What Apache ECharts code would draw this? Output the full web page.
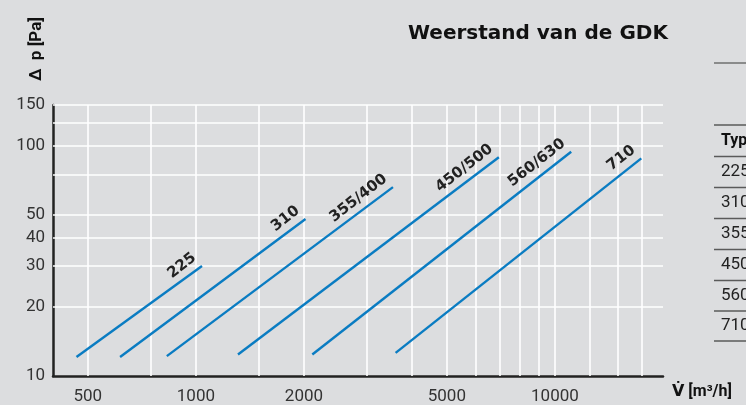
<!DOCTYPE html>
<html>
<head>
<meta charset="utf-8">
<script src="https://cdn.jsdelivr.net/npm/echarts@6/dist/echarts.min.js"></script>
<style>
  html, body { margin: 0; padding: 0; background: #dcdddf; }
  #chart { width: 746px; height: 405px; }
</style>
</head>
<body>
<div id="chart"></div>
<script>
// Pressure loss of the GDK per size: straight lines on log-log axes
const types     = ['225', '310', '355/400', '450/500', '560/630', '710'];
const flowStart = [465, 615, 830, 1310, 2110, 3600];      // m³/h
const flowEnd   = [1040, 2020, 3540, 6980, 11100, 17400]; // m³/h
const dpStart   = [12.1, 12.1, 12.2, 12.4, 12.4, 12.6];   // Pa
const dpEnd     = [30, 48, 66, 89, 94, 88];               // Pa

// Axis labels and grid lines
const xTickLabels = [500, 1000, 2000, 5000, 10000];
const yTickLabels = [10, 20, 30, 40, 50, 100, 150];
const xGridLines  = [500, 750, 1000, 1500, 2000, 3000, 4000, 5000, 6000, 7000, 8000, 9000, 10000, 12500, 15000, 17500];
const yGridLines  = [20, 30, 40, 50, 75, 100, 125, 150];

// Table rows at the right edge
const tableRows = ['225', '310', '355', '450', '560', '710'];

const BLUE = '#0a7cc2';
const DARK = '#222222';
const tickFont = 'Roboto, "DejaVu Sans", sans-serif';

const chart = echarts.init(document.getElementById('chart'), null, { renderer: 'canvas' });

const gridSeries = {
  type: 'line',
  data: [],
  silent: true,
  z: 1,
  markLine: {
    silent: true,
    z: 1,
    symbol: 'none',
    label: { show: false },
    lineStyle: { color: '#ffffff', width: 1.6, type: 'solid' },
    emphasis: { disabled: true },
    animation: false,
    data: xGridLines.map(v => ({ xAxis: v })).concat(yGridLines.map(v => ({ yAxis: v })))
  }
};

const curveSeries = types.map((t, i) => ({
  name: t,
  type: 'line',
  z: 3,
  symbol: 'circle',
  symbolSize: 0.1,
  showSymbol: true,
  itemStyle: { color: 'rgba(0,0,0,0)' },
  lineStyle: { color: BLUE, width: 2.4 },
  label: { show: false },
  labelLayout: { hideOverlap: false },
  data: [
    { value: [flowStart[i], dpStart[i]] },
    {
      value: [flowEnd[i], dpEnd[i]],
      label: {
        show: true,
        formatter: t,
        position: [-3, -4],
        align: 'right',
        verticalAlign: 'bottom',
        rotate: 38,
        color: '#222',
        fontFamily: '"DejaVu Sans", sans-serif',
        fontWeight: 'bold',
        fontSize: 15
      }
    }
  ],
  emphasis: { disabled: true }
}));

// Table graphics (partially cut off at the right edge)
const tableLineYs = [125, 156.5, 187.5, 218.5, 249.5, 280.5, 311, 341];
const tableGraphics = [];
tableGraphics.push({
  type: 'line', shape: { x1: 714, y1: 63, x2: 746, y2: 63 },
  style: { stroke: '#6f6f6f', lineWidth: 1.5 }
});
tableLineYs.forEach(y => tableGraphics.push({
  type: 'line', shape: { x1: 714, y1: y, x2: 746, y2: y },
  style: { stroke: '#5a5a5a', lineWidth: 1.5 }
}));
tableGraphics.push({
  type: 'text', x: 721, y: 141,
  style: { text: 'Typ', font: 'bold 16px ' + tickFont, fill: '#111', verticalAlign: 'middle' }
});
tableRows.forEach((r, i) => tableGraphics.push({
  type: 'text', x: 721, y: (tableLineYs[i + 1] + tableLineYs[i + 2]) / 2,
  style: { text: r, font: '17px ' + tickFont, fill: '#222', verticalAlign: 'middle' }
}));

const option = {
  backgroundColor: '#dcdddf',
  animation: false,
  title: {
    text: 'Weerstand van de GDK',
    left: 403,
    top: 19,
    textStyle: {
      fontFamily: '"DejaVu Sans", sans-serif',
      fontWeight: 'bold',
      fontSize: 20,
      color: '#111'
    }
  },
  grid: { left: 53, top: 105, width: 610, height: 272, containLabel: false },
  xAxis: {
    type: 'log',
    logBase: 10,
    min: 400,
    max: 20000,
    name: 'V\u0307 [m³/h]',
    nameLocation: 'end',
    nameGap: 9,
    nameTextStyle: {
      fontFamily: tickFont,
      fontWeight: 'bold',
      fontSize: 16,
      color: '#111',
      verticalAlign: 'top',
      padding: [8, 0, 0, 0]
    },
    axisLine: { show: true, onZero: false, lineStyle: { color: DARK, width: 2.5 } },
    axisTick: { show: false },
    splitLine: { show: false },
    minorSplitLine: { show: false },
    axisLabel: {
      customValues: xTickLabels,
      formatter: v => String(Math.round(v)),
      margin: 12,
      fontFamily: tickFont,
      fontSize: 17,
      color: '#333'
    }
  },
  yAxis: {
    type: 'log',
    logBase: 10,
    min: 10,
    max: 150,
    axisLine: { show: true, onZero: false, lineStyle: { color: DARK, width: 2.5 } },
    axisTick: { show: false },
    splitLine: { show: false },
    minorSplitLine: { show: false },
    axisLabel: {
      customValues: yTickLabels,
      formatter: v => String(Math.round(v)),
      margin: 8,
      fontFamily: tickFont,
      fontSize: 17,
      color: '#333'
    }
  },
  graphic: [
    {
      type: 'text',
      x: 37, y: 49,
      rotation: Math.PI / 2,
      style: {
        text: 'Δ  p [Pa]',
        font: 'bold 17px ' + tickFont,
        fill: '#111',
        align: 'center',
        verticalAlign: 'middle'
      }
    }
  ].concat(tableGraphics),
  series: [gridSeries].concat(curveSeries)
};

chart.setOption(option);
</script>
</body>
</html>
